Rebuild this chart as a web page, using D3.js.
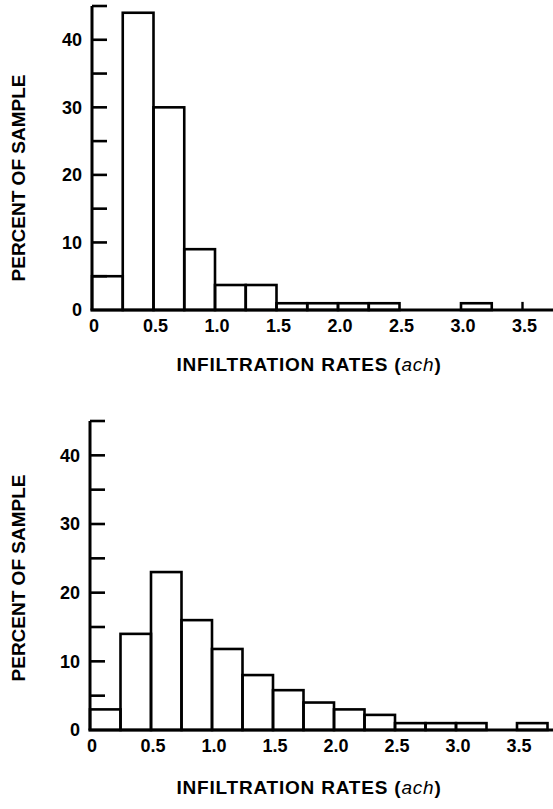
<!DOCTYPE html>
<html>
<head>
<meta charset="utf-8">
<script src="https://cdn.jsdelivr.net/npm/d3@7"></script>
<style>
  body { margin: 0; background: #fff; }
  svg text { font-family: "Liberation Sans", Arial, sans-serif; font-weight: bold; fill: #000; }
</style>
</head>
<body>
<svg id="chart" width="553" height="809"></svg>
<script>
// bins are 0.25 ach wide, starting at these values
const binStarts = [0, 0.25, 0.5, 0.75, 1.0, 1.25, 1.5, 1.75, 2.0, 2.25, 2.5, 2.75, 3.0, 3.25, 3.5];
const binWidth = 0.25;

// upper histogram (percent of sample per bin)
const topPercents = [5, 44, 30, 9, 3.7, 3.7, 1, 1, 1, 1, 0, 0, 1, 0, 0];
// lone spike drawn at 3.5 in the upper panel
const topSpikes = [{ x: 3.5, v: 1.2 }];

// lower histogram
const bottomPercents = [3, 14, 23, 16, 11.8, 8, 5.8, 4, 3, 2.2, 1, 1, 1, 0, 1];

const xTickValues = [0, 0.5, 1.0, 1.5, 2.0, 2.5, 3.0, 3.5];
const xTickLabels = ["0", "0.5", "1.0", "1.5", "2.0", "2.5", "3.0", "3.5"];
const yLabelValues = [0, 10, 20, 30, 40];
const yTickValues = [5, 10, 15, 20, 25, 30, 35, 40, 45];

const xTitle = "INFILTRATION RATES (";
const xTitleUnit = "ach";
const yTitle = "PERCENT OF SAMPLE";

const svg = d3.select("#chart");

function drawPanel(cfg) {
    const x = d3.scaleLinear().domain([0, 1]).range([cfg.x0, cfg.x0 + cfg.pxPerUnit]);
    const y = d3.scaleLinear().domain([0, 45]).range([cfg.y0, cfg.yTop]);
    const g = svg.append("g");

    const data = binStarts.map((b, i) => ({ start: b, v: cfg.values[i] })).filter(d => d.v > 0);

    // bars
    g.selectAll(".bar")
     .data(data)
     .enter().append("rect")
     .attr("class", "bar")
     .attr("x", d => x(d.start))
     .attr("y", d => y(d.v))
     .attr("width", d => x(d.start + binWidth) - x(d.start))
     .attr("height", d => y(0) - y(d.v))
     .attr("fill", "none")
     .attr("stroke", "#000")
     .attr("stroke-width", 2.6);

    // spikes
    g.selectAll(".spike")
     .data(cfg.spikes || [])
     .enter().append("line")
     .attr("x1", d => x(d.x)).attr("x2", d => x(d.x))
     .attr("y1", y(0)).attr("y2", d => y(d.v))
     .attr("stroke", "#000").attr("stroke-width", 2.4);

    // y axis line and inward ticks
    g.append("line")
     .attr("x1", x(0)).attr("x2", x(0))
     .attr("y1", y(0)).attr("y2", y(45))
     .attr("stroke", "#000").attr("stroke-width", 3);
    g.selectAll(".ytick")
     .data(yTickValues)
     .enter().append("line")
     .attr("x1", x(0)).attr("x2", x(0) + 15)
     .attr("y1", d => y(d)).attr("y2", d => y(d))
     .attr("stroke", "#000").attr("stroke-width", 2.6);

    // baseline
    g.append("line")
     .attr("x1", x(0) - 1.5).attr("x2", 553)
     .attr("y1", y(0)).attr("y2", y(0))
     .attr("stroke", "#000").attr("stroke-width", 3);

    // y labels
    g.selectAll(".ylab")
     .data(yLabelValues)
     .enter().append("text")
     .attr("x", x(0) - 10)
     .attr("y", d => y(d))
     .attr("dy", "0.36em")
     .attr("text-anchor", "end")
     .attr("font-size", 18)
     .text(d => d);

    // x labels
    g.selectAll(".xlab")
     .data(xTickValues)
     .enter().append("text")
     .attr("x", d => x(d) + 2)
     .attr("y", cfg.labelY)
     .attr("dy", "0.36em")
     .attr("text-anchor", "middle")
     .attr("font-size", 18)
     .text((d, i) => xTickLabels[i]);

    // x title
    const t = g.append("text")
     .attr("x", 309)
     .attr("y", cfg.titleY)
     .attr("dy", "0.36em")
     .attr("text-anchor", "middle")
     .attr("font-size", 19)
     .attr("letter-spacing", 0.8);
    t.append("tspan").text(xTitle);
    t.append("tspan").attr("font-style", "italic").attr("font-weight", "normal").text(xTitleUnit);
    t.append("tspan").text(")");

    // y title
    g.append("text")
     .attr("transform", `translate(18,${cfg.yTitleY}) rotate(-90)`)
     .attr("dy", "0.36em")
     .attr("text-anchor", "middle")
     .attr("font-size", 19)
     .text(yTitle);
}

drawPanel({ values: topPercents, spikes: topSpikes, x0: 92, pxPerUnit: 123, y0: 310, yTop: 6,
            labelY: 326, titleY: 364, yTitleY: 178 });
drawPanel({ values: bottomPercents, spikes: [], x0: 90, pxPerUnit: 122, y0: 730, yTop: 421,
            labelY: 746, titleY: 787, yTitleY: 578 });
</script>
</body>
</html>
